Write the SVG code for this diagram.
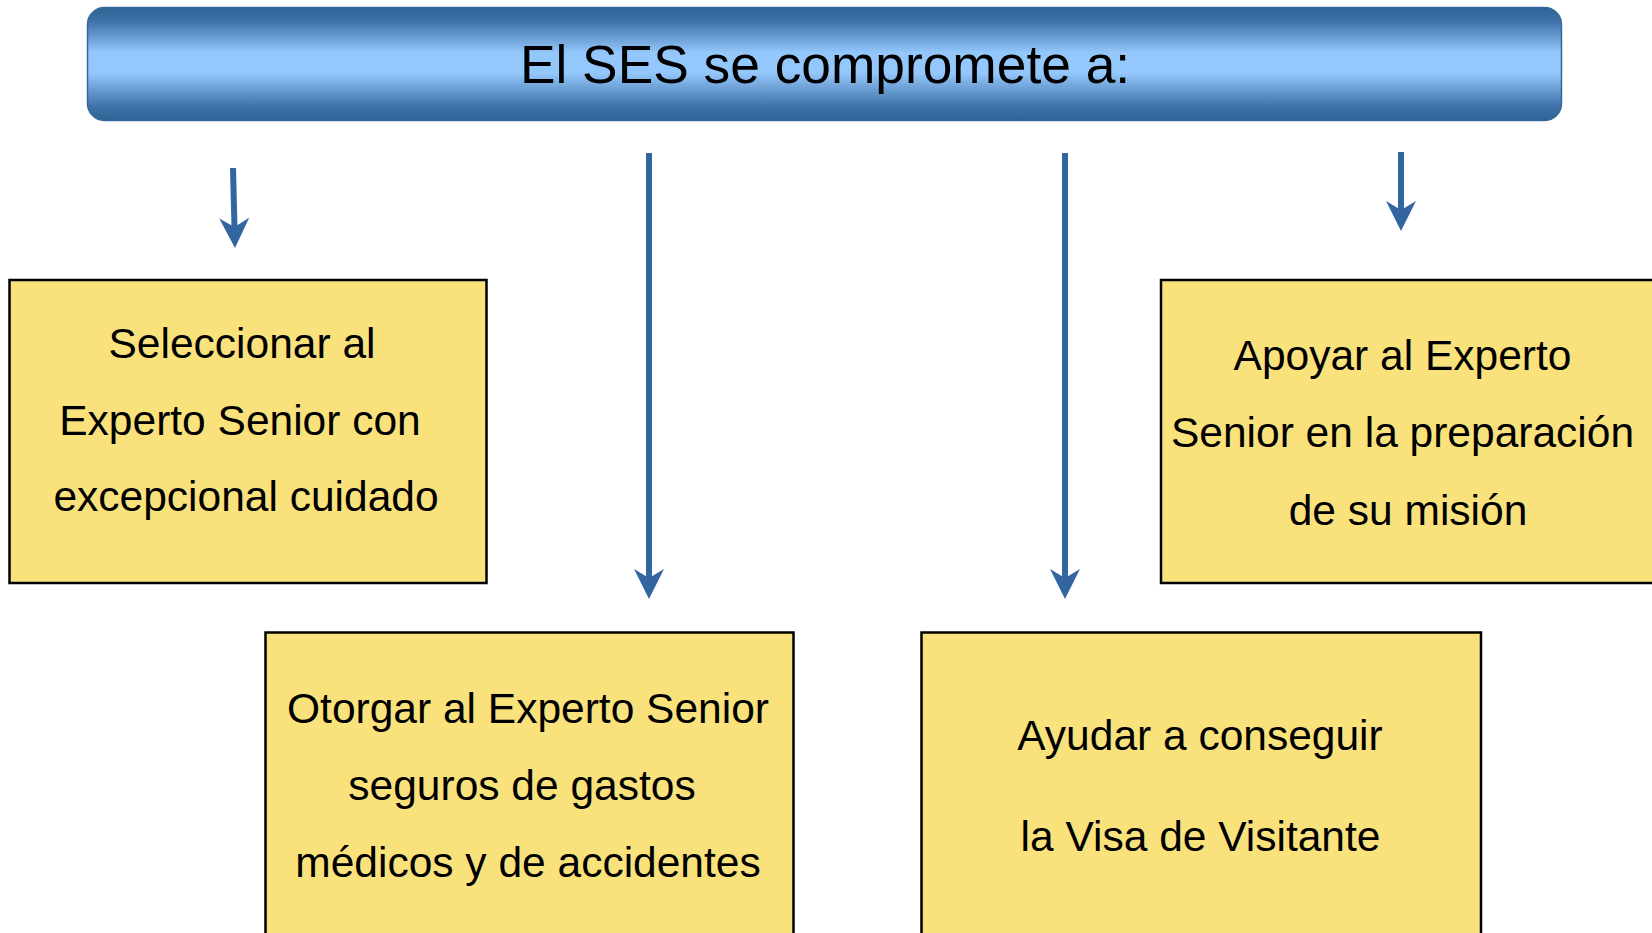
<svg xmlns="http://www.w3.org/2000/svg" width="1652" height="933" viewBox="0 0 1652 933">
  <style>
    .box { fill: #F9E17C; stroke: #000000; stroke-width: 2.5; }
    .txt { font-family: "Liberation Sans", Arial, sans-serif; font-size: 42.5px; fill: #000000; text-anchor: middle; }
    .title { font-family: "Liberation Sans", Arial, sans-serif; font-size: 53.3px; fill: #000000; text-anchor: middle; }
    .conn { stroke: #3366A0; stroke-width: 6; fill: none; marker-end: url(#head); }
  </style>
  <defs>
    <linearGradient id="hdr" x1="0" y1="0" x2="0" y2="1">
      <stop offset="0" stop-color="#2F6294"/>
      <stop offset="0.12" stop-color="#3D71A7"/>
      <stop offset="0.40" stop-color="#94C8FC"/>
      <stop offset="0.58" stop-color="#94C8FC"/>
      <stop offset="0.88" stop-color="#3D71A7"/>
      <stop offset="1" stop-color="#2F6294"/>
    </linearGradient>
    <marker id="head" markerUnits="userSpaceOnUse" viewBox="0 0 30 30" markerWidth="30" markerHeight="30" refX="10" refY="15" orient="auto">
      <path d="M0,0 L30,15 L0,30 L9,15 Z" fill="#3366A0"/>
    </marker>
  </defs>

  <g id="header">
    <rect x="87.5" y="7.5" width="1474" height="113" rx="17" ry="17" fill="url(#hdr)" stroke="#36689C" stroke-width="1.5"/>
    <text class="title" x="825" y="83">El SES se compromete a:</text>
  </g>

  <g id="connectors">
    <line class="conn" x1="233" y1="168" x2="234.5" y2="228"/>
    <line class="conn" x1="649" y1="153" x2="649" y2="579"/>
    <line class="conn" x1="1065" y1="153" x2="1065" y2="579"/>
    <line class="conn" x1="1401" y1="152" x2="1401" y2="211"/>
  </g>

  <g id="node-seleccionar">
    <rect class="box" x="9.5" y="280" width="477" height="303"/>
    <text class="txt" x="242" y="358">Seleccionar al</text>
    <text class="txt" x="240" y="435">Experto Senior con</text>
    <text class="txt" x="246" y="511">excepcional cuidado</text>
  </g>

  <g id="node-apoyar">
    <rect class="box" x="1161" y="280" width="520" height="303"/>
    <text class="txt" x="1402.5" y="370">Apoyar al Experto</text>
    <text class="txt" x="1402.5" y="447">Senior en la preparación</text>
    <text class="txt" x="1408" y="525">de su misión</text>
  </g>

  <g id="node-otorgar">
    <rect class="box" x="265.5" y="632.5" width="528" height="330"/>
    <text class="txt" x="528" y="723">Otorgar al Experto Senior</text>
    <text class="txt" x="522" y="800">seguros de gastos</text>
    <text class="txt" x="528" y="877">médicos y de accidentes</text>
  </g>

  <g id="node-ayudar">
    <rect class="box" x="921.5" y="632.5" width="559.5" height="330"/>
    <text class="txt" x="1200" y="750">Ayudar a conseguir</text>
    <text class="txt" x="1200.5" y="851">la Visa de Visitante</text>
  </g>
</svg>
